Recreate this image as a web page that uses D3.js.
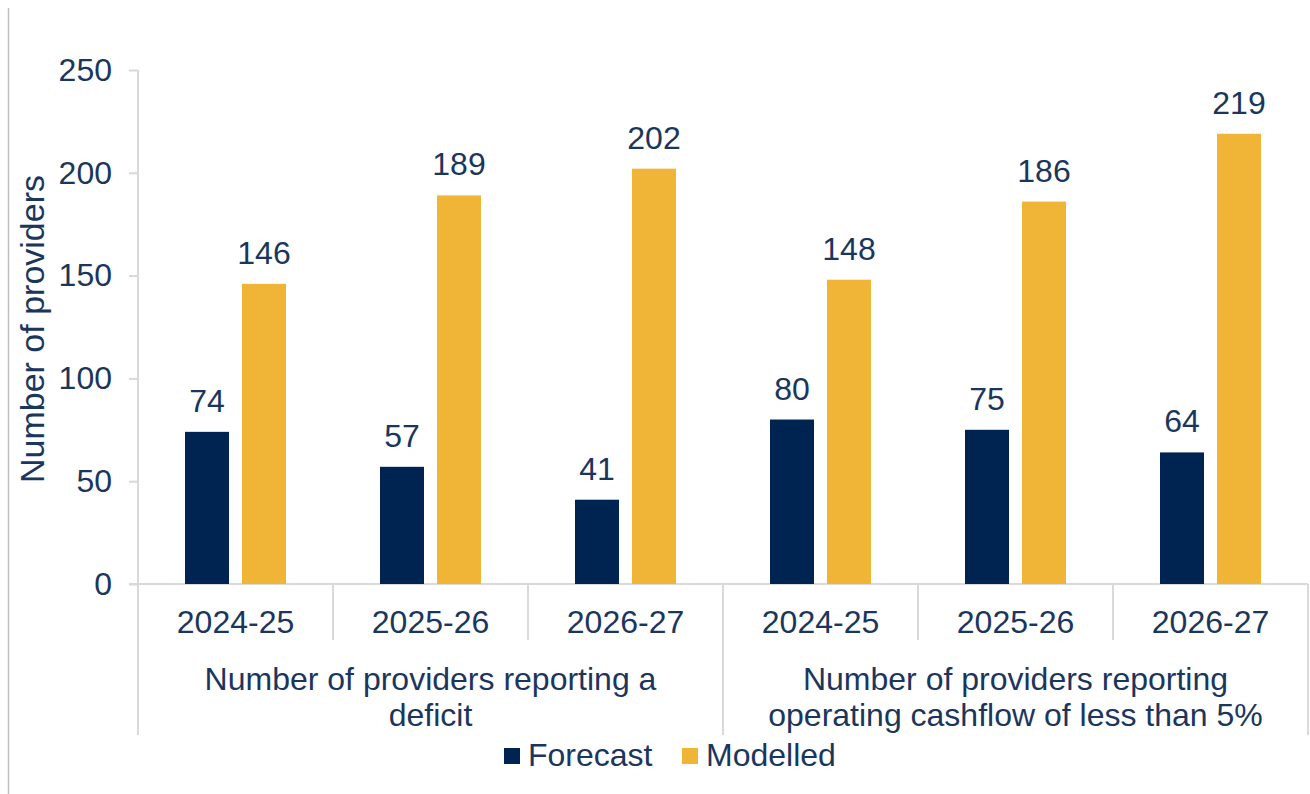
<!DOCTYPE html>
<html>
<head>
<meta charset="utf-8">
<script src="https://cdn.jsdelivr.net/npm/d3@7"></script>
<style>
  html, body { margin: 0; padding: 0; background: #fff; }
  svg text { font-family: "Liberation Sans", Arial, sans-serif; fill: #1b365d; }
</style>
</head>
<body>
<svg id="chart" width="1310" height="794"></svg>
<script>
// ---- Data ----
const years = ["2024-25", "2025-26", "2026-27"];
const groups = ["Number of providers reporting a deficit", "Number of providers reporting operating cashflow of less than 5%"];
const groupLines = [["Number of providers reporting a", "deficit"], ["Number of providers reporting", "operating cashflow of less than 5%"]];
const series = ["Forecast", "Modelled"];
const forecast = [74, 57, 41, 80, 75, 64];
const modelled = [146, 189, 202, 148, 186, 219];
const yTicks = [0, 50, 100, 150, 200, 250];
const yTitle = "Number of providers";

// ---- Styling ----
const colors = { Forecast: "#002452", Modelled: "#F0B437" };
const axisColor = "#d9d9d9";
const fontSize = 32;

const svg = d3.select("#chart");

const cats = [];
groups.forEach((g, gi) => years.forEach(yr => cats.push({ key: gi + "|" + yr, year: yr, group: gi })));
const rows = cats.map((c, i) => ({ ...c, Forecast: forecast[i], Modelled: modelled[i] }));

const pLeft = 138, pRight = 1308, pTop = 70, pBottom = 584;

const x0 = d3.scaleBand().domain(cats.map(c => c.key)).range([pLeft, pRight]).padding(0);
const bw = x0.bandwidth();
const x1 = d3.scaleBand().domain(series).range([bw / 2 - 50.5, bw / 2 + 50.5]).paddingInner(0.228).paddingOuter(0);
const y = d3.scaleLinear().domain([0, 250]).range([pBottom, pTop]);

// outer frame line (left)
svg.append("line").attr("x1", 8.5).attr("x2", 8.5).attr("y1", 8).attr("y2", 794)
  .attr("stroke", "#bfbfbf").attr("stroke-width", 1.5);

// Y axis
const yAxis = svg.append("g").attr("transform", `translate(${pLeft},0)`)
  .call(d3.axisLeft(y).tickValues(yTicks).tickSize(9).tickPadding(17));
yAxis.select(".domain").remove();
yAxis.selectAll(".tick line").attr("stroke", axisColor).attr("stroke-width", 2);
yAxis.selectAll(".tick text").attr("font-size", fontSize).attr("fill", "#1b365d")
  .attr("font-family", "Liberation Sans, Arial, sans-serif");
svg.append("line").attr("x1", pLeft).attr("x2", pLeft).attr("y1", pTop).attr("y2", 735)
  .attr("stroke", axisColor).attr("stroke-width", 2);

// y title
svg.append("text").attr("transform", `translate(44,${(pTop + pBottom) / 2 + 2}) rotate(-90)`)
  .attr("text-anchor", "middle").attr("font-size", 34).text(yTitle);

// baseline
svg.append("line").attr("x1", pLeft - 9).attr("x2", pRight).attr("y1", pBottom).attr("y2", pBottom)
  .attr("stroke", axisColor).attr("stroke-width", 2);

// bars
const gCat = svg.append("g").selectAll("g").data(rows).join("g")
  .attr("transform", d => `translate(${x0(d.key)},0)`);
gCat.selectAll("rect").data(d => series.map(s => ({ s, v: d[s] }))).join("rect")
  .attr("x", d => x1(d.s)).attr("width", x1.bandwidth())
  .attr("y", d => y(d.v)).attr("height", d => y(0) - y(d.v))
  .attr("fill", d => colors[d.s]);
gCat.selectAll("text.lbl").data(d => series.map(s => ({ s, v: d[s] }))).join("text")
  .attr("class", "lbl")
  .attr("x", d => x1(d.s) + x1.bandwidth() / 2).attr("y", d => y(d.v) - 20)
  .attr("text-anchor", "middle").attr("font-size", fontSize).text(d => d.v);

// x axis year labels
const xAxis = svg.append("g").attr("transform", `translate(0,${pBottom})`)
  .call(d3.axisBottom(x0).tickSize(0).tickPadding(26).tickFormat(k => k.split("|")[1]));
xAxis.select(".domain").remove();
xAxis.selectAll(".tick text").attr("font-size", fontSize).attr("fill", "#1b365d")
  .attr("font-family", "Liberation Sans, Arial, sans-serif");

// separators
cats.forEach((c, i) => {
  if (i === 0) return;
  const xx = x0(c.key);
  const isGroup = i % years.length === 0;
  svg.append("line").attr("x1", xx).attr("x2", xx).attr("y1", pBottom).attr("y2", isGroup ? 735 : 640)
    .attr("stroke", axisColor).attr("stroke-width", 2);
});
svg.append("line").attr("x1", pRight).attr("x2", pRight).attr("y1", pBottom).attr("y2", 735)
  .attr("stroke", axisColor).attr("stroke-width", 2);

// group labels
groupLines.forEach((lines, gi) => {
  const first = x0(gi + "|" + years[0]);
  const last = x0(gi + "|" + years[years.length - 1]) + bw;
  const cx = (first + last) / 2;
  const t = svg.append("text").attr("text-anchor", "middle").attr("font-size", fontSize);
  lines.forEach((ln, li) => t.append("tspan").attr("x", cx).attr("y", 690 + li * 36).text(ln));
});

// legend
const legend = svg.append("g");
const legendItems = [{ s: "Forecast", x: 504 }, { s: "Modelled", x: 682 }];
legendItems.forEach(it => {
  legend.append("rect").attr("x", it.x).attr("y", 748).attr("width", 16).attr("height", 16).attr("fill", colors[it.s]);
  legend.append("text").attr("x", it.x + 24).attr("y", 766).attr("font-size", fontSize).text(it.s);
});
</script>
</body>
</html>
